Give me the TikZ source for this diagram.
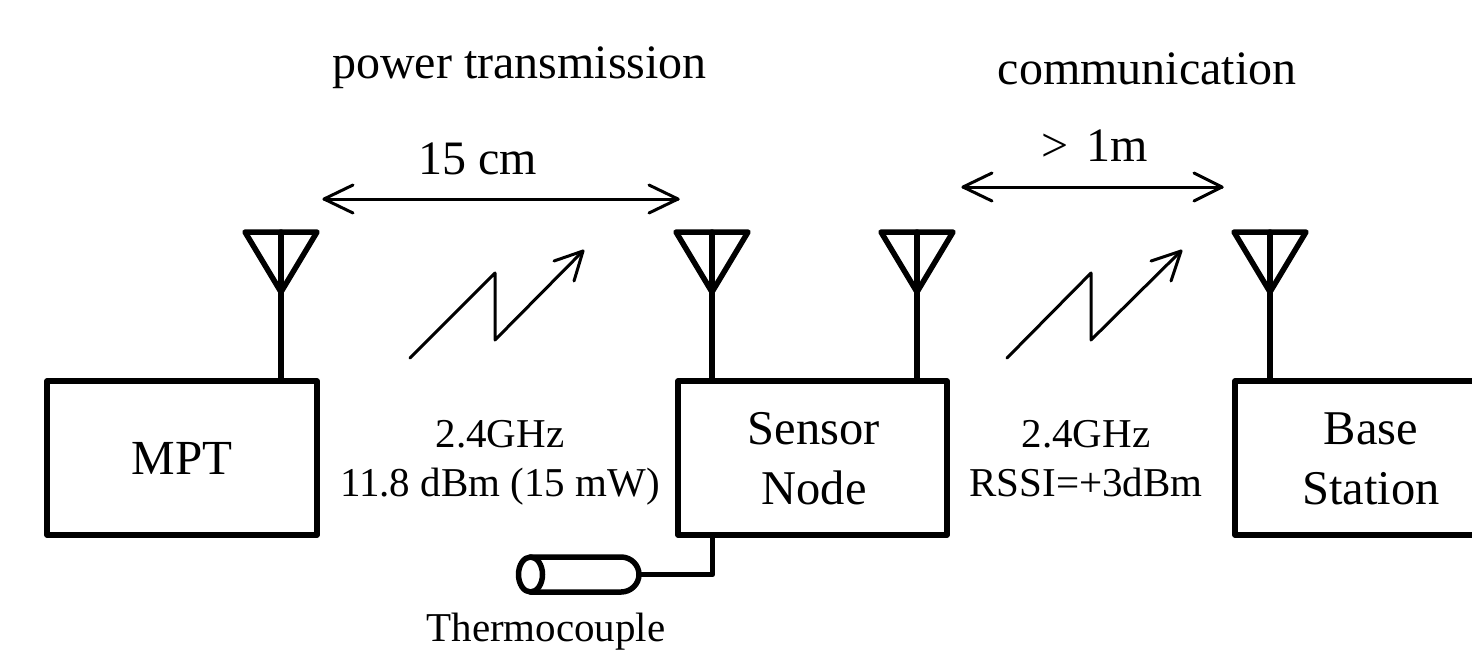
\documentclass[tikz,border=0pt]{standalone}
\usepackage{fontspec}
\setmainfont{Liberation Serif}
\begin{document}
\begin{tikzpicture}[x=1pt,y=-1pt,line join=round,line cap=round,
  blockbox/.style={draw,line width=5.5pt,line join=round,minimum height=154pt,align=center,inner sep=0pt,font=\fontsize{49}{60}\selectfont},
  antline/.style={line width=5.5pt},
  thinline/.style={line width=3pt},
  lab/.style={inner sep=0pt,align=center},
  biglab/.style={lab,font=\fontsize{48}{56}\selectfont},
  blocklab/.style={lab,font=\fontsize{48.5}{60}\selectfont},
  smalllab/.style={lab,font=\fontsize{41}{49}\selectfont}]
\useasboundingbox (0,0) rectangle (1472,649);
\clip (0,0) rectangle (1472,649);
% blocks
\node[blockbox,minimum width=270pt] (mpt) at (182,458) {MPT};
\node[blockbox,minimum width=269pt] (sensor) at (812.5,458) {\phantom{.}};
\node[blockbox,minimum width=240pt] (base) at (1355,458) {\phantom{.}};
\node[blocklab] (sensortext) at (814,458.5) {Sensor\\Node};
\node[blocklab] (basetext) at (1371,458.5) {Base\\Station};
% antennas
\foreach \n/\x/\b in {a/281/mpt,b/712/sensor,c/917/sensor,d/1270/base}{
  \coordinate (\n apex) at (\x,292);
  \coordinate (\n top) at (\x,232);
  \coordinate (\n l) at (\x-36,232);
  \coordinate (\n r) at (\x+36,232);
  \draw[antline] (\n l) -- (\n r) -- (\n apex) -- cycle;
  \draw[antline] (\n top) -- (\n top |- \b.north);
}
% distance arrows
\coordinate (p1) at (324,199); \coordinate (p2) at (678,199);
\coordinate (q1) at (963,187); \coordinate (q2) at (1222,187);
\draw[thinline] (p1) -- (p2);
\draw[thinline] (353,185) -- (p1) -- (353,213);
\draw[thinline] (649,185) -- (p2) -- (649,213);
\draw[thinline] (q1) -- (q2);
\draw[thinline] (992,173) -- (q1) -- (992,201);
\draw[thinline] (1194,173) -- (q2) -- (1194,201);
% lightning
\draw[thinline] (410,358) -- (495,273) -- (495,340) -- (583,251);
\draw[thinline] (554,261) -- (583,251) -- (574,281);
\draw[thinline] (1007,358) -- (1091,273) -- (1091,340) -- (1181,251);
\draw[thinline] (1151,261) -- (1181,251) -- (1171,281);
% thermocouple
\coordinate (tc) at (639,574.5);
\coordinate (tcbend) at (712.5,574.5);
\draw[line width=5.5pt] (530.5,557) -- (621,557) .. controls (631,557) and (639,565) .. (tc) .. controls (639,584) and (631,592) .. (621,592) -- (530.5,592);
\draw[line width=5.5pt] (530.5,574.5) ellipse[x radius=12,y radius=17.5];
\draw[line width=5.5pt] (tc) -- (tcbend) -- (tcbend |- sensor.south);
% labels
\node[biglab] (t1) at (519.5,68) {power transmission};
\node[biglab] (t2) at (1147,69) {communication};
\node[biglab] (t3) at (478,159) {15 cm};
\node[biglab] (t4) at (1095,146) {> \hspace{6pt}1m};
\node[smalllab] (t5) at (500,462.5) {2.4GHz\\11.8 dBm (15 mW)};
\node[smalllab] (t6) at (1086,458.5) {2.4GHz\\RSSI=+3dBm};
\node[smalllab] (t7) at (546,632) {Thermocouple};
\end{tikzpicture}
\end{document}
